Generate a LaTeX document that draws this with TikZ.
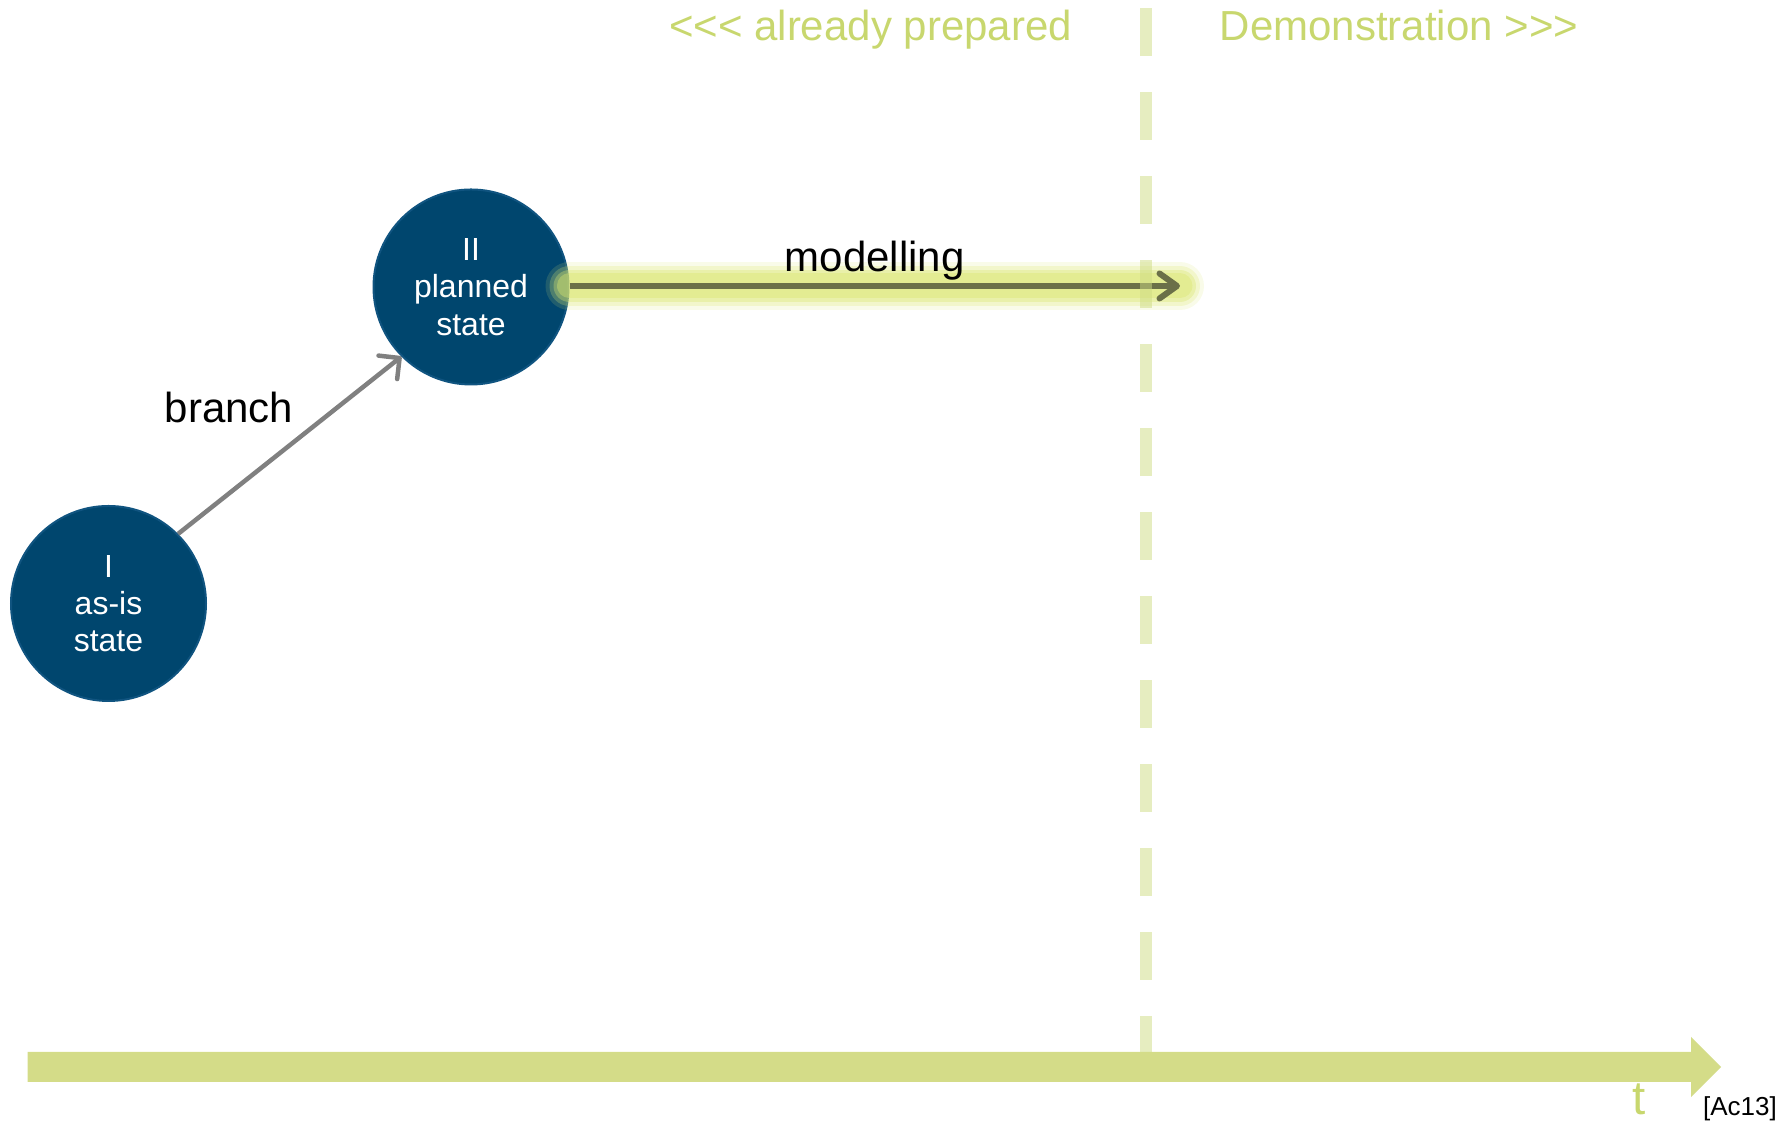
\documentclass[tikz,border=0pt]{standalone}
\usepackage{fontspec}
\setmainfont{Liberation Sans}[Ligatures=TeXOff]
\usepackage{xcolor}
\usepackage{tikz}
\usetikzlibrary{arrows.meta}
\definecolor{stateblue}{RGB}{0,70,110}
\definecolor{stateline}{RGB}{16,84,128}
\definecolor{phasegreen}{RGB}{200,215,110}
\definecolor{axisgreen}{RGB}{212,220,136}
\definecolor{dashgreen}{RGB}{205,219,130}
\definecolor{glowgreen}{RGB}{218,230,110}
\definecolor{modelolive}{RGB}{107,112,72}
\definecolor{branchgray}{RGB}{128,128,128}
\tikzset{
  statenode/.style={circle, draw=stateline, line width=0.04cm, fill=stateblue, text=white,
    minimum size=3.9cm, inner sep=0pt, align=center, font=\fontsize{18.2}{21.2}\selectfont},
  lbl/.style={inner sep=0pt, font=\fontsize{23.9}{28}\selectfont},
  phase/.style={lbl, text=phasegreen},
  branchedge/.style={draw=branchgray, line width=0.09cm, -{Straight Barb[round, length=0.3cm, width=0.6cm]}},
  modeledge/.style={draw=modelolive, line width=0.12cm, -{Straight Barb[round, length=0.35cm, width=0.5cm]}},
  glow/.style={draw=glowgreen, line cap=round},
  divider/.style={draw=dashgreen, draw opacity=0.5, line width=0.24cm, dash pattern=on 0.96cm off 0.72cm}
}

\begin{document}
\begin{tikzpicture}
        \useasboundingbox (0,0) rectangle (35.78,22.5);

        % Define the positions of the nodes
        \node[statenode] (asis) at (2.17, 10.43) {I\\as-is\\state};
        \node[statenode] (planned) at (9.42, 16.76) {II\\planned\\state};
        \coordinate (modelEnd) at (23.6, 16.78);
        \coordinate (divTop) at (22.92, 22.34);
        \coordinate (divBot) at (22.92, 1.46);
        \node[lbl] (branchLbl) at (4.58, 14.34) {branch};
        \node[phase, anchor=base] (prepLbl) at (17.41, 21.68) {<<< already prepared};
        \node[phase, anchor=base] (demoLbl) at (27.98, 21.68) {Demonstration >>>};

        % Draw the time axis
        \fill[axisgreen] (0.55,0.86) -- (33.82,0.86) -- (33.82,0.56) -- (34.42,1.16)
          -- (33.82,1.76) -- (33.82,1.46) -- (0.55,1.46) -- cycle;
        \node[phase, anchor=base, font=\fontsize{27}{30}\selectfont] (tLbl) at (32.79, 0.2) {t};
        \node[inner sep=0pt, font=\fontsize{14.8}{17}\selectfont] (srcLbl) at (34.8, 0.32) {[Ac13]};

        % Draw the edges
        \foreach \w/\o in {0.96/0.15, 0.8/0.25, 0.64/0.35, 0.5/0.4}
          \draw[glow, line width=\w cm, draw opacity=\o] (planned.east |- modelEnd) -- (modelEnd);
        \draw[branchedge] (asis.45) -- (planned.225);
        \draw[modeledge] (planned.east |- modelEnd) -- (modelEnd) node[midway, lbl, above=0.05cm] {modelling};
        \draw[divider] (divTop) -- (divBot);
    \end{tikzpicture}
\end{document}
